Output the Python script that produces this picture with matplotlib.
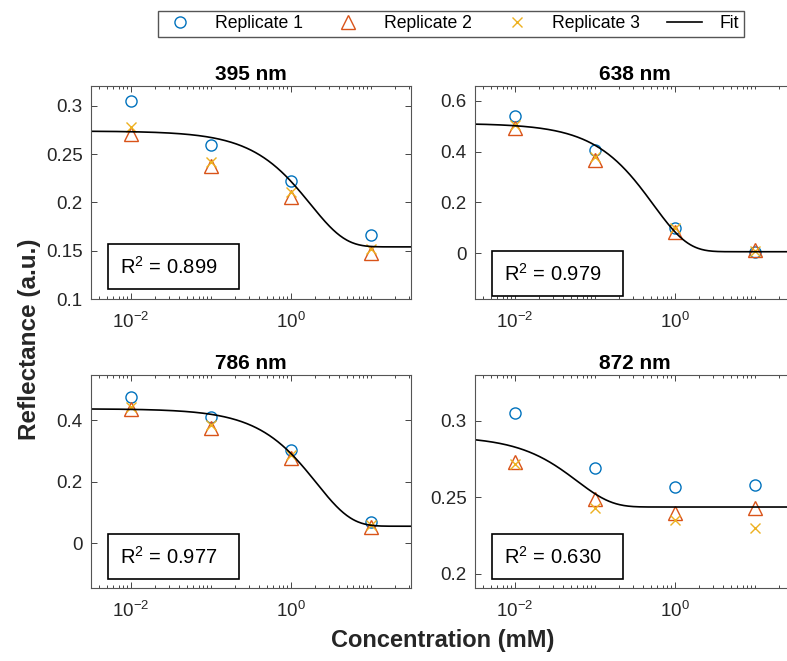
import numpy as np
import matplotlib.pyplot as plt
from matplotlib.patches import Rectangle
from matplotlib.ticker import LogLocator, NullFormatter, FormatStrFormatter

plt.rcParams['font.family'] = ['Liberation Sans', 'DejaVu Sans']
plt.rcParams['mathtext.fontset'] = 'custom'
plt.rcParams['mathtext.rm'] = 'Liberation Sans'

# data
conc = [0.01, 0.1, 1, 10]
titles = ['395 nm', '638 nm', '786 nm', '872 nm']
rep1 = [[0.305, 0.260, 0.222, 0.166],
        [0.541, 0.406, 0.101, 0.006],
        [0.476, 0.411, 0.302, 0.068],
        [0.305, 0.269, 0.257, 0.258]]
rep2 = [[0.271, 0.238, 0.206, 0.148],
        [0.492, 0.367, 0.085, 0.013],
        [0.435, 0.376, 0.278, 0.054],
        [0.273, 0.249, 0.240, 0.243]]
rep3 = [[0.278, 0.242, 0.211, 0.152],
        [0.505, 0.380, 0.098, 0.009],
        [0.442, 0.384, 0.286, 0.060],
        [0.272, 0.243, 0.235, 0.230]]
# fit: y = bottom + (top - bottom) * exp(-rate * c)
fit_top = [0.274, 0.511, 0.437, 0.290]
fit_bottom = [0.154, 0.006, 0.055, 0.2436]
fit_rate = [0.57, 1.87, 0.48, 16.8]
r2 = ['0.899', '0.979', '0.977', '0.630']
ylims = [(0.1, 0.3207), (-0.18, 0.658), (-0.146, 0.547), (0.1906, 0.33)]
yticks = [[0.1, 0.15, 0.2, 0.25, 0.3], [0, 0.2, 0.4, 0.6], [0, 0.2, 0.4], [0.2, 0.25, 0.3]]

W, H = 787, 661
fig = plt.figure(figsize=(W / 100, H / 100), dpi=100)

pos = [(91, 86), (475, 86), (91, 375), (475, 375)]
aw, ah = 320, 213
box_b = [10, 3, 9, 9]
dark = '#262626'

for i in range(4):
    l, t = pos[i]
    ax = fig.add_axes([l / W, 1 - (t + ah) / H, aw / W, ah / H])
    ax.set_xscale('log')
    cc = np.logspace(-2.6, 1.7, 400)
    yy = fit_bottom[i] + (fit_top[i] - fit_bottom[i]) * np.exp(-fit_rate[i] * cc)
    ax.plot(conc, rep1[i], 'o', ms=8, mfc='none', mec='#0072BD', mew=1.0, label='Replicate 1')
    ax.plot(conc, rep2[i], '^', ms=9.5, mfc='none', mec='#D95319', mew=1.0, label='Replicate 2')
    ax.plot(conc, rep3[i], 'x', ms=7, mec='#EDB120', mew=1.0, label='Replicate 3')
    ax.plot(cc, yy, '-', color='black', lw=1.2, label='Fit')
    ax.set_xlim(10 ** -2.5, 10 ** 1.5)
    ax.set_ylim(*ylims[i])
    ax.set_xticks([1e-2, 1e0])
    ax.xaxis.set_minor_locator(LogLocator(base=10, subs=np.arange(1, 10), numticks=30))
    ax.xaxis.set_minor_formatter(NullFormatter())
    ax.set_yticks(yticks[i])
    ax.yaxis.set_major_formatter(FormatStrFormatter('%g'))
    ax.tick_params(which='both', direction='in', top=True, right=True, color=dark,
                   width=0.6, labelsize=13.5, labelcolor=dark)
    ax.tick_params(which='major', length=4)
    ax.tick_params(which='minor', length=2.2)
    ax.tick_params(axis='x', pad=9)
    ax.tick_params(axis='y', pad=6)
    for s in ax.spines.values():
        s.set_color('#555555')
        s.set_linewidth(0.8)
    ax.set_title(titles[i], fontweight='bold', fontsize=15, pad=4)

    bx, by = 17 / aw, box_b[i] / ah
    ax.add_patch(Rectangle((bx, by), 131 / aw, 45 / ah, transform=ax.transAxes,
                           facecolor='white', edgecolor='black', lw=1.2, zorder=5))
    ax.text(bx + 12 / aw, by + 22.5 / ah, r'R$^{\mathdefault{2}}$ = ' + r2[i],
            transform=ax.transAxes, fontsize=14.5, va='center', ha='left', zorder=6)
    if i == 0:
        handles, labels = ax.get_legend_handles_labels()

fig.legend(handles, labels, loc='upper center', bbox_to_anchor=(451 / W, 1 - 11 / H),
           ncol=4, fontsize=12.7, frameon=True, fancybox=False, edgecolor='#555555',
           handlelength=2.0, handletextpad=1.0, columnspacing=1.55, borderpad=0.25,
           borderaxespad=0, numpoints=1, framealpha=1)

fig.text(30 / W, 1 - 339 / H, 'Reflectance (a.u.)', rotation=90, ha='center', va='center',
         fontsize=17.5, fontweight='bold', color=dark)
fig.text(443 / W, 1 - 640 / H, 'Concentration (mM)', ha='center', va='center',
         fontsize=17, fontweight='bold', color=dark)

fig.savefig('out.png', dpi=100)
